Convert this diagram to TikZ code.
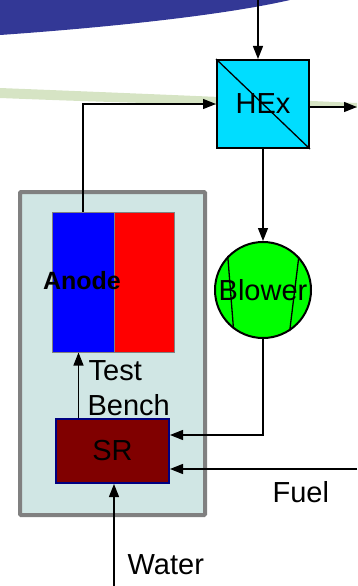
\documentclass[tikz,border=0pt]{standalone}
\usepackage{fontspec}
\setmainfont{Liberation Sans}
\usetikzlibrary{arrows.meta}
\definecolor{swoosh}{RGB}{51,56,150}
\definecolor{leaf}{RGB}{214,228,196}
\definecolor{hexcyan}{RGB}{0,221,255}
\definecolor{benchfill}{RGB}{208,230,228}
\definecolor{benchgrey}{RGB}{128,128,128}
\definecolor{blowergreen}{RGB}{0,255,0}
\definecolor{srred}{RGB}{128,0,0}
\definecolor{srnavy}{RGB}{0,0,128}
\begin{document}
\begin{tikzpicture}[x=1pt,y=-1pt,line width=1.3pt,
  flow/.style={-{Triangle[length=13pt,width=10pt]}},
  lbl/.style={inner sep=0pt,font=\fontsize{29}{35}\selectfont}]
\useasboundingbox (0,0) rectangle (357,586);
% backdrop
\fill[swoosh] (0,0) -- (290,0) .. controls (220,16) and (100,28) .. (0,35) -- cycle;
\fill[leaf] (0,88) .. controls (100,92) and (200,96) .. (357,103) -- (357,108)
  .. controls (200,105) and (100,102) .. (0,98) -- cycle;
% test bench
\node[draw=benchgrey,line width=4pt,rounded corners=1pt,fill=benchfill,
  minimum width=185,minimum height=323,inner sep=0pt] (testbench) at (112.5,353.5) {};
\node[draw=benchgrey,line width=1pt,fill=blue,minimum width=62,minimum height=140,
  inner sep=0pt] (anode) at (83,282) {};
\node[draw=benchgrey,line width=1pt,fill=red,minimum width=60,minimum height=140,
  inner sep=0pt] (cathode) at (144,282) {};
\node[inner sep=0pt,font=\fontsize{25}{30}\selectfont\bfseries] (anodelbl) at (82,281) {Anode};
\node[draw=srnavy,line width=2pt,fill=srred,minimum width=113,minimum height=64,
  inner sep=0pt,lbl] (sr) at (112.5,451) {SR};
\node[lbl,anchor=base west] (testlbl) at (88,380) {Test};
\node[lbl,anchor=base west] (benchlbl) at (87,415) {Bench};
% heat exchanger and blower
\node[draw,line width=2pt,fill=hexcyan,minimum width=92,minimum height=88,
  inner sep=0pt,lbl] (hex) at (263,104) {HEx};
\draw (hex.north west) -- (hex.south east);
\node[circle,draw,line width=2pt,fill=blowergreen,minimum size=96,inner sep=0pt,
  lbl] (blower) at (263,290) {\makebox[0pt]{Blower}};
\draw (blower.136) -- (blower.233);
\draw (blower.43) -- (blower.303);
% streams
\coordinate (air) at (258,0);
\coordinate (exhaust) at (357,107);
\coordinate (ret) at (263,435);
\coordinate (fuel) at (357,469);
\coordinate (water) at (114,586);
\draw[flow] (air) -- (air |- hex.north);
\draw[flow] (hex.east |- exhaust) -- (exhaust);
\draw[flow] (anode.north) -- (anode.north |- hex.west) -- (hex.west);
\draw[flow] (hex.south) -- (blower.north);
\draw[flow] (blower.south) -- (ret) -- (sr.east |- ret);
\draw[flow] (fuel) -- (sr.east |- fuel);
\draw[flow] (water) -- (water |- sr.south);
\draw[flow] ([xshift=-34]sr.north) -- ([xshift=-34]sr.north |- anode.south);
\node[lbl,anchor=base west] (fuellbl) at (272,502) {Fuel};
\node[lbl,anchor=base west] (waterlbl) at (127,574) {Water};
\end{tikzpicture}
\end{document}
